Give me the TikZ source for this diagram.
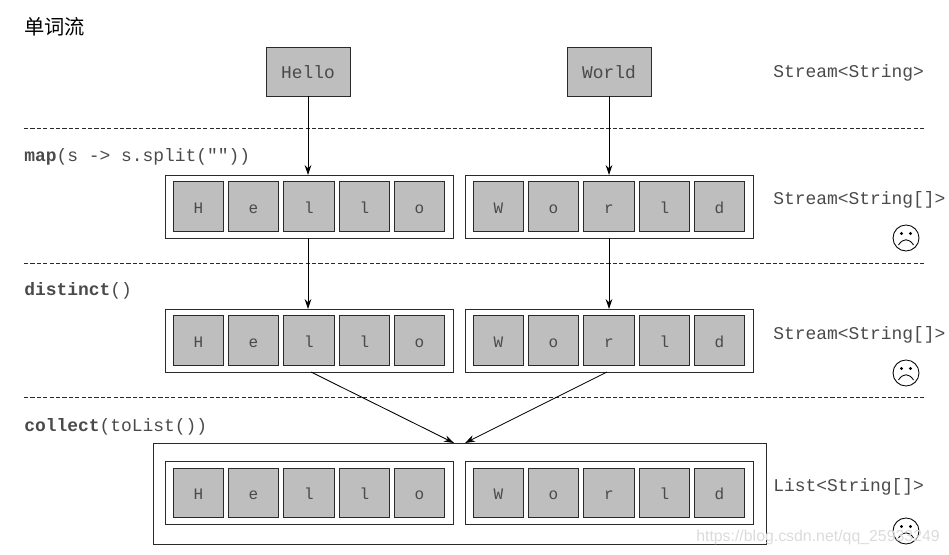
\documentclass[tikz,border=0pt]{standalone}
\usepackage{fontspec}
\setmainfont{Liberation Sans}
\setmonofont{Liberation Mono}
\newfontfamily\cjk{Noto Sans CJK SC}
\usetikzlibrary{arrows.meta,calc}
\definecolor{cellgray}{HTML}{BEBEBE}
\definecolor{inktext}{HTML}{4A4A4A}
\definecolor{inkline}{HTML}{2A2A2A}
\tikzset{
  base/.style={draw=inkline,line width=0.65pt,inner sep=0pt,outer sep=0pt},
  wordbox/.style={base,fill=cellgray,minimum width=63pt,minimum height=36.75pt,text height=10.5pt,text depth=0pt,font=\ttfamily\fontsize{13.4}{15}\selectfont,text=inktext},
  cellbox/.style={base,fill=cellgray,minimum width=37.9pt,minimum height=36.9pt,text height=10.25pt,text depth=0pt,font=\ttfamily\fontsize{12}{13}\selectfont,text=inktext},
  group/.style={base,fill=white,minimum width=216pt,minimum height=47.25pt},
  outer/.style={base,fill=white,minimum width=459.75pt,minimum height=75.5pt},
  sep/.style={draw=inkline,line width=0.6pt,dash pattern=on 3.2pt off 1.6pt},
  flow/.style={draw=black,line width=0.65pt,-{Stealth[length=7.5pt,width=5pt]}},
  lab/.style={anchor=base west,inner sep=0pt,font=\ttfamily\fontsize{13.45}{15}\selectfont,text=inktext},
  facecirc/.style={circle,draw=black,line width=0.65pt,fill=white,minimum size=19.5pt,inner sep=0pt,outer sep=0pt}
}
\newcommand{\sadface}[3]{%
  \node[facecirc] (#1) at (#2,#3) {};
  \fill (#2-4.5,#3-4.5) circle (1.3pt);
  \fill (#2+4.5,#3-4.5) circle (1.3pt);
  \draw[line width=0.65pt] (#2-7.5,#3+7) .. controls (#2-3,#3) and (#2+3,#3) .. (#2+7.5,#3+7);
}
\newcommand{\wordrow}[2]{%
  \node[group] (#1a) at (309,#2) {};
  \node[group] (#1b) at (609,#2) {};
  \node[cellbox] (#1a1) at (198.5,#2) {H};
  \node[cellbox] (#1a2) at (253.5,#2) {e};
  \node[cellbox] (#1a3) at (309,#2) {l};
  \node[cellbox] (#1a4) at (364.5,#2) {l};
  \node[cellbox] (#1a5) at (419.5,#2) {o};
  \node[cellbox] (#1b1) at (498.5,#2) {W};
  \node[cellbox] (#1b2) at (553.5,#2) {o};
  \node[cellbox] (#1b3) at (609,#2) {r};
  \node[cellbox] (#1b4) at (664.5,#2) {l};
  \node[cellbox] (#1b5) at (719.5,#2) {d};
}
\begin{document}
\begin{tikzpicture}[x=0.75pt,y=-0.75pt]
\useasboundingbox (0,0) rectangle (949,555);
\node[anchor=west,inner sep=0pt,font=\cjk\fontsize{15.2}{17}\selectfont,text=black] (title) at (24,27) {单词流};
\coordinate (s1l) at (24,128); \coordinate (s1r) at (924,128);
\coordinate (s2l) at (24,263); \coordinate (s2r) at (924,263);
\coordinate (s3l) at (24,397); \coordinate (s3r) at (924,397);
\draw[sep] (s1l) -- (s1r);
\draw[sep] (s2l) -- (s2r);
\draw[sep] (s3l) -- (s3r);
\node[wordbox] (hello) at (308,71.5) {Hello};
\node[wordbox] (world) at (609,71.5) {World};
\wordrow{p}{206.5}
\wordrow{q}{340.5}
\node[outer] (all) at (459.5,494) {};
\wordrow{r}{493}
\draw[flow] (hello.south) -- (hello.south |- pa.north);
\draw[flow] (world.south) -- (world.south |- pb.north);
\draw[flow] (hello.south |- pa.south) -- (hello.south |- qa.north);
\draw[flow] (world.south |- pb.south) -- (world.south |- qb.north);
\coordinate (qaout) at ($(qa.south)+(2,0)$);
\coordinate (qbout) at ($(qb.south)+(-2,0)$);
\coordinate (allin1) at (454,443);
\coordinate (allin2) at (465,443);
\draw[flow] (qaout) -- (allin1);
\draw[flow] (qbout) -- (allin2);
\node[lab] (op1) at (24,161.5) {\textbf{map}(s -> s.split(""))};
\node[lab] (op2) at (24,295.5) {\textbf{distinct}()};
\node[lab] (op3) at (24,431.5) {\textbf{collect}(toList())};
\node[lab] (t1) at (773,77.5) {Stream<String>};
\node[lab] (t2) at (773,204.5) {Stream<String[]>};
\node[lab] (t3) at (773,339.5) {Stream<String[]>};
\node[lab] (t4) at (773,491.5) {List<String[]>};
\sadface{f1}{906}{238}
\sadface{f2}{906}{373}
\sadface{f3}{906}{531}
\node[anchor=west,inner sep=0pt,font=\fontsize{11.9}{14}\selectfont,text=black!14] (mark) at (696,537) {https://blog.csdn.net/qq\_25933249};
\end{tikzpicture}
\end{document}
